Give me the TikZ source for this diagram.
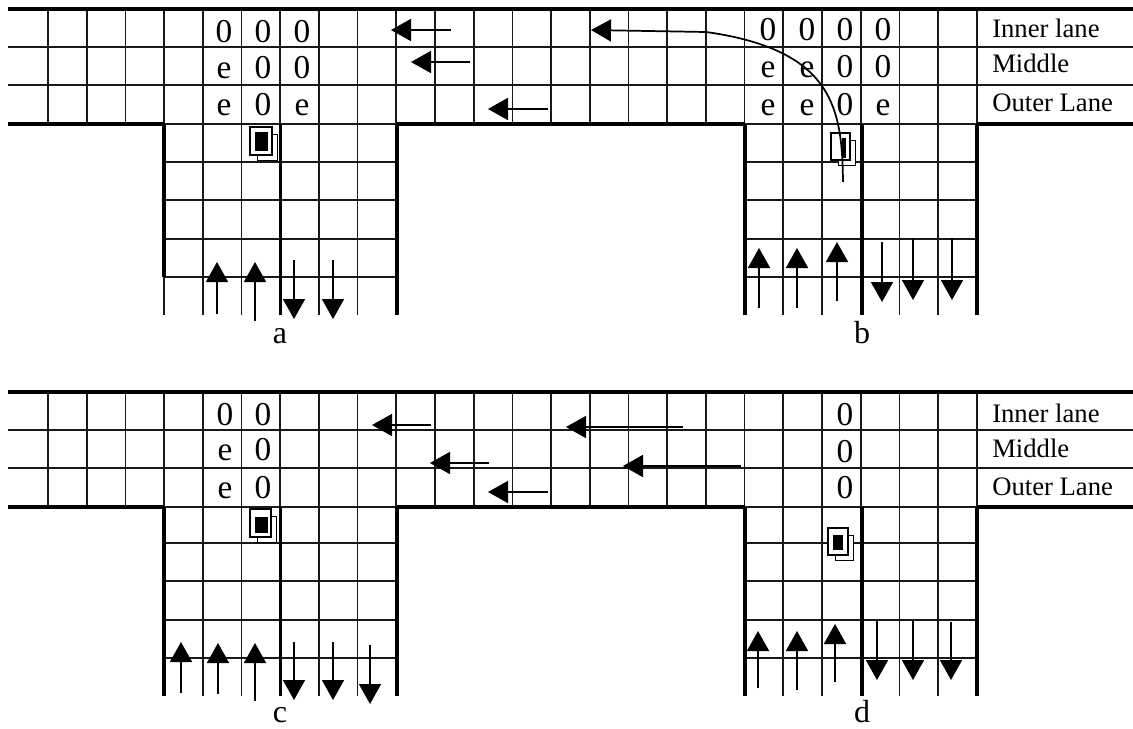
\documentclass[tikz,border=0pt]{standalone}
\usepackage{fontspec}
\setmainfont{Liberation Serif}
\usetikzlibrary{arrows.meta}
\begin{document}
\begin{tikzpicture}[x=0.75pt, y=-0.75pt,
    gridline/.style={line width=1.3pt, black!90},
    wall/.style={line width=2.7pt},
    flow/.style={line width=1.3pt, -{Triangle[length=15pt, width=16.5pt]}},
    cellmark/.style={anchor=base, inner sep=0pt, font=\fontsize{25}{25}\selectfont},
    lanename/.style={anchor=base west, inner sep=0pt, font=\fontsize{20}{20}\selectfont},
    panelname/.style={anchor=base, inner sep=0pt, font=\fontsize{24}{24}\selectfont}]
    \useasboundingbox (0,0) rectangle (1133,729);

    % Road grids, upper and lower row of panels
    \foreach \yt/\yj in {0/0, 383/381} {
        \foreach \k in {0,...,24}
            \draw[gridline] (48+38.7*\k, 9+\yt) -- (48+38.7*\k, 124+\yt);
        \foreach \k in {3,...,9,18,19,...,24}
            \draw[gridline] (48+38.7*\k, 124+\yt) -- (48+38.7*\k, 315+\yj);
        \foreach \y in {47,85,124}
            \draw[gridline] (8, \y+\yt) -- (1133, \y+\yt);
        \foreach \y in {162,200,239,277} {
            \draw[gridline] (164, \y+\yj) -- (397, \y+\yj);
            \draw[gridline] (745, \y+\yj) -- (977, \y+\yj);
        }
        % Kerbs
        \draw[wall] (8, 9+\yt) -- (1133, 9+\yt);
        \draw[wall] (8, 124+\yt) -- (164, 124+\yt);
        \draw[wall] (397, 124+\yt) -- (745, 124+\yt);
        \draw[wall] (977, 124+\yt) -- (1133, 124+\yt);
        \foreach \x in {280.5,397,745,862,977}
            \draw[wall] (\x, 124+\yt) -- (\x, 315+\yj);
    }
    \draw[wall] (164, 124) -- (164, 277);
    \draw[wall] (164, 507) -- (164, 696);

    % Vehicles
    \foreach \x/\y/\w/\h/\lw/\cl/\ct/\cr/\cb in {
        250/127/22/28/1.9/255/132/268/151,
        831/133/19/27/0.9/842/138/846/158,
        250/509/21/28/1.9/255/517/268/533,
        828/528/20/27/1.4/833/535/843/550} {
        \draw[line width=0.7pt, fill=white] (\x+7, \y+7) rectangle (\x+\w+5, \y+\h+5);
        \draw[line width=\lw pt, fill=white] (\x, \y) rectangle (\x+\w, \y+\h);
        \fill (\cl, \ct) rectangle (\cr, \cb);
    }

    % Cell marks
    \foreach \x/\y/\t [count=\i] in {
        224/42/0, 263/42/0, 302/42/0, 224/78/e, 263/78/0, 302/78/0, 224/115/e, 263/115/0, 302/115/e,
        768/40/0, 807/40/0, 845/40/0, 883/40/0, 768/77/e, 807/77/e, 845/77/0, 883/77/0,
        768/115/e, 807/115/e, 845/115/0, 883/115/e,
        225/425/0, 263/425/0, 225/460/e, 263/460/0, 225/498/e, 263/498/0,
        845/425/0, 845/462/0, 845/498/0}
        \node[cellmark] (mark\i) at (\x, \y) {\t};

    % Lane names
    \foreach \y/\t [count=\i] in {37/Inner lane, 72/Middle, 111/Outer Lane, 422/Inner lane, 457/Middle, 495/Outer Lane}
        \node[lanename] (lane\i) at (992, \y) {\t};

    % Panel names
    \node[panelname] (panela) at (280, 343) {a};
    \node[panelname] (panelb) at (862, 343) {b};
    \node[panelname] (panelc) at (280, 722) {c};
    \node[panelname] (paneld) at (862, 722) {d};

    % Traffic along the road
    \foreach \xa/\xb/\y in {451/391/30, 470/411/62, 548/488/109,
        431/372/425, 683/566/427, 489/430/463, 741/623/466, 548/488/492}
        \draw[flow] (\xa, \y) -- (\xb, \y);

    % Traffic up and down the side road
    \foreach \x/\ya/\yb in {217/314/262, 255/321/262, 294/260/319, 333/260/319,
        759/308/248, 797/308/248, 837/301/242, 882/242/302, 913/238/300, 952/238/300,
        181/693/642, 218/694/643, 255/701/643, 294/642/700, 333/642/700, 370/645/704,
        758/688/631, 797/690/631, 835/682/624, 877/620/680, 913/620/680, 951/622/680}
        \draw[flow] (\x, \ya) -- (\x, \yb);

    % Turning vehicle
    \draw[flow] (843, 182) .. controls (842, 110) and (835, 50) .. (706, 32) -- (591, 30);
\end{tikzpicture}
\end{document}
